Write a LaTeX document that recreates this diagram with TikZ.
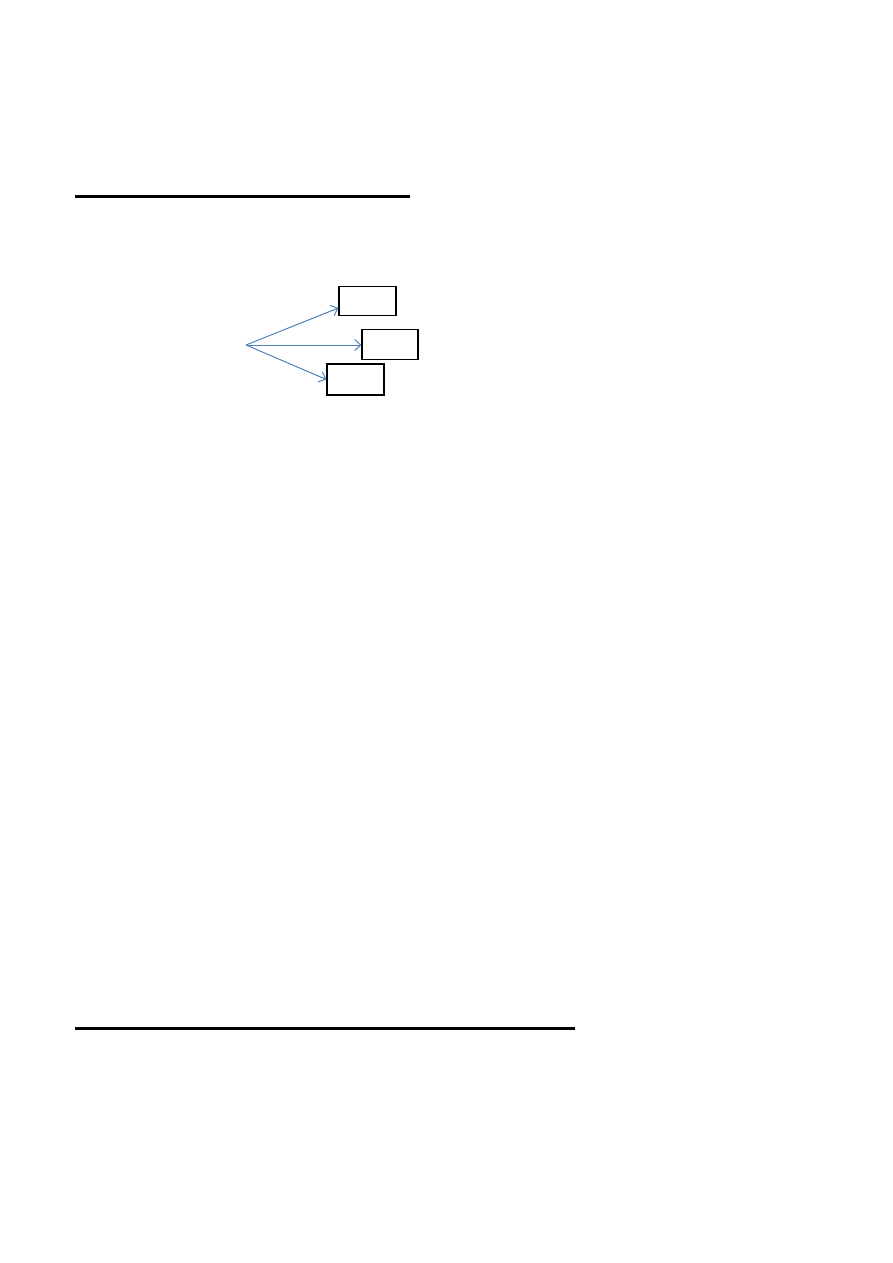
\documentclass[tikz,border=0pt]{standalone}
\usepackage{tikz}
\usetikzlibrary{arrows.meta}
\definecolor{arrowblue}{RGB}{79,129,189}

\begin{document}
\begin{tikzpicture}[x=1pt,y=-1pt,
box/.style={draw,rectangle,line width=1.2pt,inner sep=0pt,minimum width=57pt,minimum height=29pt},
link/.style={draw=arrowblue,line width=1pt,-{Straight Barb[length=6pt,width=11pt]}},
rule/.style={line width=2.5pt}]
\useasboundingbox (0,0) rectangle (893,1263);
% separator rules
\draw [rule] (75,196.5) -- (410,196.5);
\draw [rule,line width=3pt] (75,1028) -- (575,1028);
% boxes
\coordinate (src) at (246,345);
\node (top) [box] at (367.5,301) {};
\node (mid) [box,minimum width=56pt,minimum height=30pt] at (390,344.5) {};
\node (bot) [box,minimum height=31pt] at (355.5,379.5) {};
\draw [link] (src) -- ([yshift=-7pt]top.west);
\draw [link] (src) -- (src -| mid.west);
\draw [link] (src) -- (bot.west);
\end{tikzpicture}
\end{document}
